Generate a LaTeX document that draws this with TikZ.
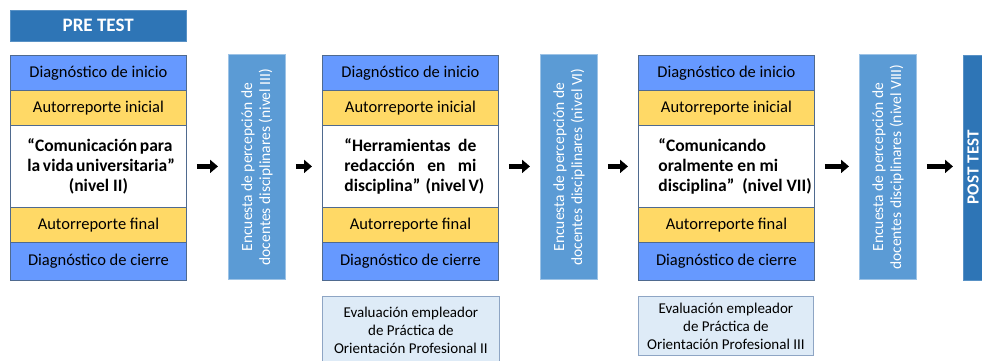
\documentclass[tikz,border=0pt]{standalone}
\usepackage{fontspec}
\setmainfont{Carlito}
\usetikzlibrary{arrows.meta}
\definecolor{diagblue}{HTML}{6699FF}
\definecolor{repyellow}{HTML}{FFD966}
\definecolor{encblue}{HTML}{5B9BD5}
\definecolor{encrim}{HTML}{9DC3E6}
\definecolor{testblue}{HTML}{2E75B6}
\definecolor{evalblue}{HTML}{DEEBF7}
\definecolor{rimgray}{HTML}{4F6A8F}
\definecolor{evalrim}{HTML}{8EA5C4}
\begin{document}
\begin{tikzpicture}[x=1pt,y=-1pt,
  cell/.style={draw=rimgray,line width=0.8pt,minimum width=176pt,anchor=north west,
    inner sep=0pt,font=\fontsize{16.5}{20}\selectfont},
  diagbox/.style={cell,fill=diagblue,minimum height=35pt},
  repbox/.style={cell,fill=repyellow,minimum height=35pt},
  midbox/.style={cell,fill=white,minimum height=82pt,font=\fontsize{17.5}{20}\selectfont\bfseries,
    align=center},
  encbox/.style={draw=encrim,line width=0.8pt,fill=encblue,minimum width=225pt,minimum height=57pt,
    rotate=90,anchor=north west,inner sep=0pt,text=white,align=center,
    font=\fontsize{15.5}{18}\selectfont},
  testbox/.style={fill=testblue,draw=testblue!80!white,inner sep=0pt,text=white,
    font=\fontsize{19}{20}\selectfont\bfseries},
  evalbox/.style={draw=evalrim,line width=0.8pt,fill=evalblue,anchor=north west,inner sep=0pt,
    align=center,font=\fontsize{15}{18}\selectfont},
  flow/.style={line width=4.5pt,-{Triangle[length=8pt,width=13pt]},shorten <=10pt,shorten >=10pt}]
  \useasboundingbox (0,0) rectangle (982,360);

  % pre test
  \node[testbox,minimum width=176pt,minimum height=31pt,anchor=north west] (pre) at (10,10) {PRE TEST};

  % three course columns
  \foreach \i/\x in {1/10,2/322,3/638}{
    \node[diagbox] (d\i) at (\x,55) {Diagnóstico de inicio};
    \node[repbox] (a\i) at (\x,90) {Autorreporte inicial};
    \node[repbox] (f\i) at (\x,207) {Autorreporte final};
    \node[diagbox,minimum height=38pt] (c\i) at (\x,242) {Diagnóstico de cierre};
  }
  \node[midbox] (m1) at (10,125) {\makebox[142pt][s]{“Comunicación para}\\
    \makebox[142pt][s]{la vida universitaria”}\\(nivel II)};
  \node[midbox] (m2) at (322,125) {\makebox[132pt][s]{“Herramientas de}\\
    \makebox[132pt][s]{redacción en mi}\\\makebox[132pt][s]{disciplina”\ \ (nivel V)}};
  \node[midbox] (m3) at (638,125) {\makebox[176pt][l]{\hspace{20pt}\parbox{154pt}{“Comunicando\\
    oralmente en mi\\disciplina”\ \ (nivel VII)}}};

  % surveys
  \foreach \i/\x/\lvl in {1/228/III,2/540/VI,3/859/VIII}
    \node[encbox] (e\i) at (\x,280) {Encuesta de percepción de\\docentes disciplinares (nivel \lvl)};

  % post test
  \node[testbox,minimum width=225pt,minimum height=20pt,rotate=90,anchor=north west,
    font=\fontsize{17}{18}\selectfont\bfseries] (post) at (963,280) {POST TEST};

  % employer evaluations
  \node[evalbox,minimum width=177pt,minimum height=68pt] (v1) at (322,296)
    {Evaluación empleador\\de Práctica de\\Orientación Profesional II};
  \node[evalbox,minimum width=175pt,minimum height=59pt] (v2) at (638,296)
    {Evaluación empleador\\de Práctica de\\Orientación Profesional III};

  % rotated boxes: north is their left side, south their right side
  \foreach \a/\b in {m1.east/e1.north,e1.south/m2.west,m2.east/e2.north,
                     e2.south/m3.west,m3.east/e3.north,e3.south/post.north}
    \draw[flow] (\a|-m1.east) -- (\b|-m1.east);
\end{tikzpicture}
\end{document}
